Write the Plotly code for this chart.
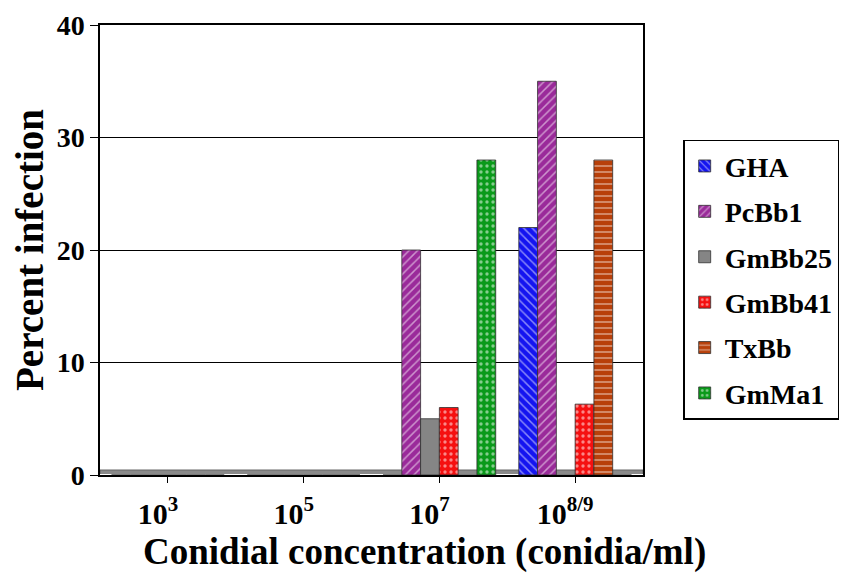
import plotly.graph_objects as go

categories = ["10<sup>3</sup>", "10<sup>5</sup>", "10<sup>7</sup>", "10<sup>8/9</sup>"]
series_names = ["GHA", "PcBb1", "GmBb25", "GmBb41", "TxBb", "GmMa1"]
GHA = [0, 0, 0, 22]
PcBb1 = [0, 0, 20, 35]
GmBb25 = [0, 0, 5, 0]
GmBb41 = [0, 0, 6, 6.3]
TxBb = [0, 0, 0, 28]
GmMa1 = [0, 0, 28, 0]
values = [GHA, PcBb1, GmBb25, GmBb41, TxBb, GmMa1]

colors = ["#1414F0", "#9A2A9A", "#858585", "#F51010", "#B8400A", "#0A9A1A"]
patterns = ["\\", "/", "", ".", "-", "."]

font_family = "Liberation Serif, Times New Roman, serif"

fig = go.Figure()
for name, vals, col, pat in zip(series_names, values, colors, patterns):
    fig.add_trace(go.Bar(
        x=categories, y=vals, name=name, legendgroup=name,
        marker=dict(color=col, line=dict(color="#303030", width=0.8),
                    pattern=dict(shape=pat, fgcolor="white", size=6, solidity=0.25)),
    ))

# grey floor strip along the category axis
fig.add_shape(type="rect", xref="paper", yref="y", x0=0, x1=1, y0=0, y1=0.45,
              fillcolor="#8a8a8a", line=dict(color="#555555", width=0.8), layer="below")

fig.add_annotation(
    text="Conidial concentration (conidia/ml)", xref="paper", yref="paper",
    x=0.598, y=-0.170, xanchor="center", yanchor="middle", showarrow=False,
    font=dict(family=font_family, size=37, color="black", weight="bold"),
)

fig.update_layout(
    width=851, height=573,
    paper_bgcolor="white", plot_bgcolor="white",
    margin=dict(l=92, r=216, t=17, b=106, autoexpand=False),
    barmode="group", bargap=0.17, bargroupgap=0,
    font=dict(family=font_family, color="black", size=30),
    showlegend=True,
    legend=dict(
        x=1.074, y=0.745, xanchor="left", yanchor="top",
        bordercolor="black", borderwidth=1.5,
        font=dict(family=font_family, size=28, color="black", weight="bold"),
        tracegroupgap=6, itemwidth=30,
    ),
    xaxis=dict(
        showline=True, linecolor="black", linewidth=1.5, mirror=True,
        ticks="outside", ticklen=6, tickcolor="black",
        tickfont=dict(family=font_family, size=30, weight="bold"),
        ticklabelstandoff=5, ticklabelshift=-10,
        automargin=False,
    ),
    yaxis=dict(
        range=[0, 40], dtick=10,
        showline=True, linecolor="black", linewidth=1.5, mirror=True,
        showgrid=True, gridcolor="black", gridwidth=1,
        ticks="outside", ticklen=8, tickcolor="black",
        tickfont=dict(family=font_family, size=28, weight="bold"),
        ticklabeloverflow="allow",
        title=dict(text="Percent infection",
                   font=dict(family=font_family, size=39, weight="bold"), standoff=8),
        automargin=False,
    ),
)

fig.write_html("out.html")
